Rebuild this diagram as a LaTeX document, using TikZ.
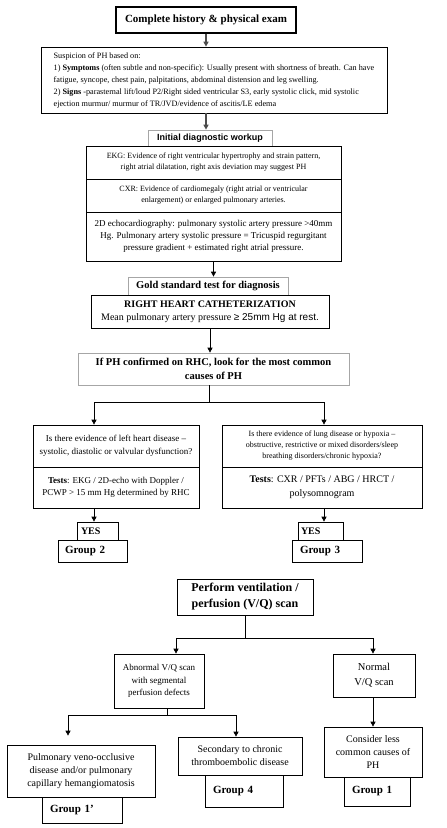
\documentclass[tikz,border=0pt]{standalone}
\usepackage{fontspec}
\setmainfont{Liberation Serif}
\newfontfamily\arialfont{Liberation Sans}
\usetikzlibrary{arrows.meta, positioning}

\begin{document}
\begin{tikzpicture}[x=1pt, y=-1pt, >={Triangle[length=5pt, width=5pt]},
    box/.style={draw, line width=0.7pt, inner sep=1pt, align=center},
    gbox/.style={draw=black!35, line width=0.7pt, inner sep=1pt, align=center},
    grp/.style={draw, line width=0.7pt, inner ysep=1pt, align=left, font=\fontsize{11}{13}\selectfont\bfseries},
    arr/.style={->, line width=0.7pt},
    darr/.style={->, line width=1.4pt, draw=black!70}]

  \useasboundingbox (0,0) rectangle (447,828);

  % history and workup
  \node[box, line width=1.1pt, minimum width=180pt, minimum height=26pt, font=\fontsize{11}{13}\selectfont\bfseries]
        (hist) at (206,20) {Complete history \& physical exam};
  \node[box, minimum width=346pt, minimum height=66pt, align=left, font=\fontsize{8.2}{12}\selectfont]
        (susp) at (214,80) {Suspicion of PH based on:\\
        1) \textbf{Symptoms} (often subtle and non-specific): Usually present with shortness of breath. Can have\\
        fatigue, syncope, chest pain, palpitations, abdominal distension and leg swelling.\\
        2) \textbf{Signs} -parasternal lift/loud P2/Right sided ventricular S3, early systolic click, mid systolic\\
        ejection murmur/ murmur of TR/JVD/evidence of ascitis/LE edema};
  \draw[darr] (hist.south) -- (hist.south |- susp.north);

  \node[gbox, minimum width=124pt, minimum height=16pt, font=\arialfont\fontsize{9}{10}\selectfont\bfseries]
        (init) at (210,138) {Initial diagnostic workup};
  \draw[darr] (susp.south -| hist.south) -- (init.north -| hist.south);

  \node[box, minimum width=255pt, minimum height=33pt, font=\fontsize{8}{11}\selectfont]
        (ekg) at (213.5,162.5) {EKG: Evidence of right ventricular hypertrophy and strain pattern,\\
        right atrial dilatation, right axis deviation may suggest PH};
  \node[box, minimum width=255pt, minimum height=33pt, font=\fontsize{8}{11}\selectfont]
        (cxr) at (213.5,195.5) {CXR: Evidence of cardiomegaly (right atrial or ventricular\\
        enlargement) or enlarged pulmonary arteries.};
  \node[box, minimum width=255pt, minimum height=49pt, font=\fontsize{9}{12}\selectfont]
        (echo) at (213.5,236.5) {2D echocardiography: pulmonary systolic artery pressure >40mm\\
        Hg. Pulmonary artery systolic pressure = Tricuspid regurgitant\\
        pressure gradient + estimated right atrial pressure.};

  % gold standard
  \node[gbox, minimum width=160pt, minimum height=18pt, font=\fontsize{10.5}{12}\selectfont\bfseries]
        (gold) at (208,286) {Gold standard test for diagnosis};
  \draw[arr] (echo.south) -- (gold.north -| echo.south);
  \node[box, minimum width=238pt, minimum height=33pt, font=\fontsize{10}{13}\selectfont]
        (rhc) at (210,311.5) {\textbf{RIGHT HEART CATHETERIZATION}\\
        Mean pulmonary artery pressure {\arialfont ≥ 25mm Hg at rest.}};

  \node[gbox, minimum width=271pt, minimum height=32pt, font=\fontsize{10.5}{14}\selectfont\bfseries]
        (conf) at (213.5,369) {If PH confirmed on RHC, look for the most common\\ causes of PH};
  \draw[arr] (rhc.south) -- (conf.north -| rhc.south);

  % left heart and lung branches
  \node[box, minimum width=166pt, minimum height=42pt, font=\fontsize{9}{12.5}\selectfont]
        (lq) at (116,446) {Is there evidence of left heart disease –\\
        systolic, diastolic or valvular dysfunction?};
  \node[box, minimum width=166pt, minimum height=41pt, font=\fontsize{9}{12.5}\selectfont]
        (lt) at (116,487.5) {\textbf{Tests}: EKG / 2D-echo with Doppler /\\
        PCWP > 15 mm Hg determined by RHC};
  \node[box, minimum width=200pt, minimum height=42pt, font=\fontsize{8}{11}\selectfont]
        (rq) at (322,446) {Is there evidence of lung disease or hypoxia –\\
        obstructive, restrictive or mixed disorders/sleep\\
        breathing disorders/chronic hypoxia?};
  \node[box, minimum width=200pt, minimum height=41pt, font=\fontsize{10}{14}\selectfont]
        (rt) at (322,487.5) {\textbf{Tests}: CXR / PFTs / ABG / HRCT /\\ polysomnogram};

  \coordinate (split1) at (209,402);
  \coordinate (lbr) at (94,402);
  \coordinate (rbr) at (324,402);
  \draw[arr] (conf.south -| split1) -- (split1) -- (lbr) -- (lbr |- lq.north);
  \draw[arr] (split1) -- (rbr) -- (rbr |- rq.north);

  \node[grp, text width=33pt, inner xsep=4pt, minimum height=18pt, font=\fontsize{10}{12}\selectfont\bfseries]
        (yesl) at (97.5,531) {YES};
  \node[grp, text width=55pt, inner xsep=7pt, minimum height=22pt]
        (grp2) at (92.5,551) {Group 2};
  \node[grp, text width=39pt, inner xsep=3pt, minimum height=18pt, font=\fontsize{10}{12}\selectfont\bfseries]
        (yesr) at (320.5,531) {YES};
  \node[grp, text width=54pt, inner xsep=8pt, minimum height=22pt]
        (grp3) at (327,551) {Group 3};
  \draw[arr] (lbr |- lt.south) -- (lbr |- yesl.north);
  \draw[arr] (rbr |- rt.south) -- (rbr |- yesr.north);

  % V/Q scan
  \node[box, line width=0.9pt, minimum width=136pt, minimum height=36pt, font=\fontsize{12}{16}\selectfont\bfseries]
        (vq) at (245,597) {Perform ventilation /\\ perfusion (V/Q) scan};
  \node[box, minimum width=90pt, minimum height=54pt, font=\fontsize{9}{12.5}\selectfont]
        (abn) at (159,681) {Abnormal V/Q scan\\ with segmental\\ perfusion defects};
  \node[box, minimum width=82pt, minimum height=43pt, font=\fontsize{10.5}{15}\selectfont]
        (norm) at (374,675.5) {Normal\\ V/Q scan};
  \coordinate (split2) at (245,638);
  \coordinate (abnbr) at (176,638);
  \coordinate (normbr) at (373,638);
  \draw[arr] (vq.south) -- (split2) -- (abnbr) -- (abnbr |- abn.north);
  \draw[arr] (split2) -- (normbr) -- (normbr |- norm.north);

  \node[box, minimum width=98pt, minimum height=50pt, font=\fontsize{10}{13}\selectfont]
        (cons) at (373,752) {Consider less\\ common causes of\\ PH};
  \node[grp, text width=50pt, inner xsep=8pt, minimum height=29pt]
        (grp1) at (377,791.5) {Group 1};
  \draw[arr] (normbr |- norm.south) -- (normbr |- cons.north);

  \node[box, minimum width=148pt, minimum height=52pt, font=\fontsize{10}{13}\selectfont]
        (pulm) at (81,771) {Pulmonary veno-occlusive\\ disease and/or pulmonary\\ capillary hemangiomatosis};
  \node[grp, text width=64pt, inner xsep=8pt, minimum height=26pt]
        (grp1p) at (82,810) {Group 1’};
  \node[box, minimum width=124pt, minimum height=38pt, font=\fontsize{10}{13}\selectfont]
        (sec) at (240,756) {Secondary to chronic\\ thromboembolic disease};
  \node[grp, text width=62pt, inner xsep=8pt, minimum height=32pt]
        (grp4) at (244,791) {Group 4};

  \coordinate (split3) at (167,715);
  \coordinate (pulmbr) at (68,715);
  \coordinate (secbr) at (236,715);
  \draw[line width=0.7pt] (split3 |- abn.south) -- (split3);
  \draw[arr, shorten >=9pt] (split3) -- (pulmbr) -- (pulmbr |- pulm.north);
  \draw[arr] (split3) -- (secbr) -- (secbr |- sec.north);
\end{tikzpicture}
\end{document}
